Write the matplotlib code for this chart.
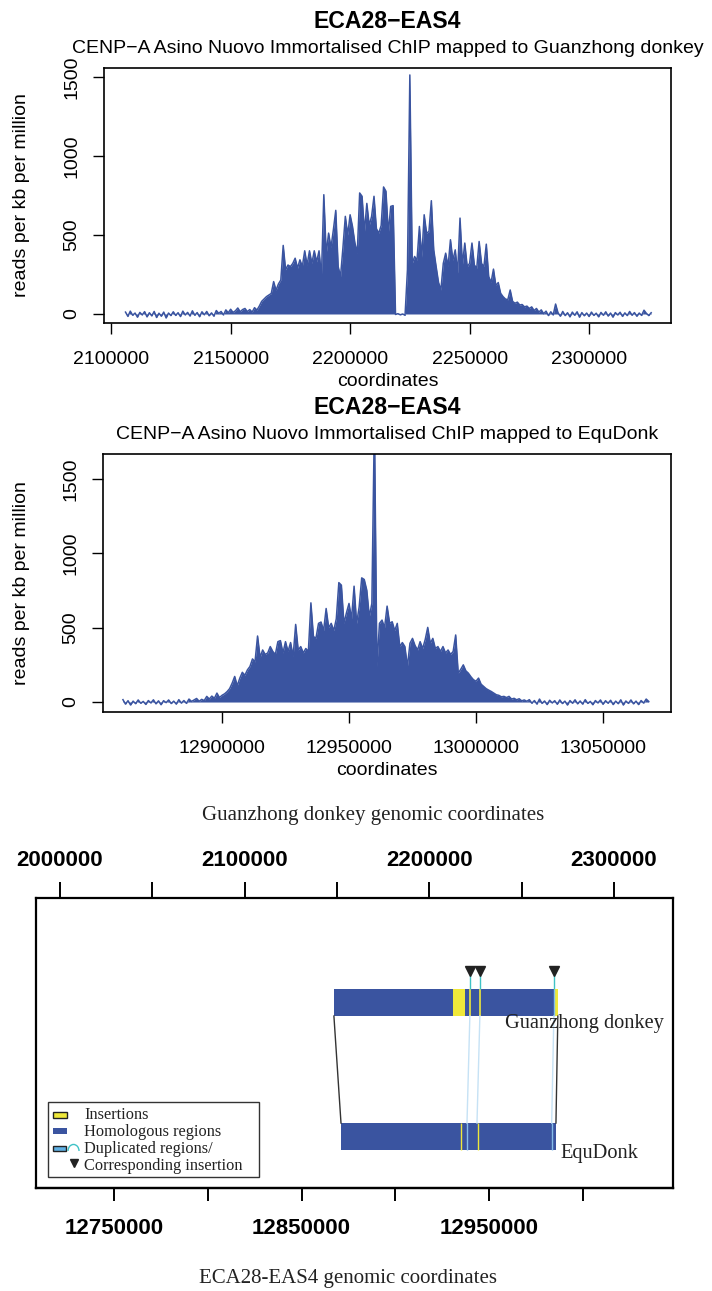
import numpy as np
import matplotlib
matplotlib.use('Agg')
import matplotlib.pyplot as plt
from matplotlib.patches import Rectangle, Arc

plt.rcParams['font.family'] = ['Liberation Sans', 'DejaVu Sans']

W, H = 712, 1291
BLUE = '#3a54a0'
YELLOW = '#efe83a'
CYAN = '#3fc2c6'
PALE = '#c6e2f5'
DUP = '#86bde9'
SERIF = ['Liberation Serif', 'DejaVu Serif']

# CENP-A ChIP signal (reads per kb per million), 1 kb bins
guanzhong_start = 2106000
guanzhong_rpkm = [
    12, -15, 18, -8, 6, -20, 10, -6, 15, -18,
    8, -12, 16, -22, 5, -14, 12, -25, 6, -10,
    14, -9, 8, -16, 18, -6, 10, -13, 20, -8,
    9, -17, 14, -5, 16, -11, 7, -14, 22, 4,
    16, -6, 26, 8, 30, 10, 20, 38, 14, 28,
    35, 15, 28, 12, 40, 25, 50, 80, 95, 110,
    120, 130, 205, 150, 190, 215, 434, 280, 310, 300,
    320, 353, 290, 343, 300, 400, 310, 400, 320, 400,
    330, 400, 237, 755, 380, 512, 420, 533, 656, 300,
    237, 420, 618, 500, 628, 554, 450, 385, 766, 745,
    520, 700, 560, 618, 745, 540, 512, 560, 804, 777,
    512, 681, 686, -3, 2, -5, 0, -8, 280, 1513,
    320, 364, 340, 554, 360, 628, 512, 522, 717, 406,
    300, 200, 152, 320, 385, 300, 470, 340, 406, 260,
    607, 310, 449, 300, 320, 449, 310, 290, 459, 320,
    300, 442, 237, 200, 284, 180, 199, 131, 110, 95,
    90, 152, 80, 68, 75, 57, 60, 45, 50, 35,
    45, 22, 35, 12, 26, 2, 18, -10, 14, -6,
    63, 8, -14, 16, -10, 8, -18, 12, -8, 14,
    -20, 9, -11, 6, -16, 12, -9, 5, -18, 10,
    -8, 14, -13, 6, -20, 9, -6, 11, -15, 7,
    -10, 16, -8, 9, -14, 6, -9, 24, 4, -10,
    8,
]
equdonk_start = 12861000
equdonk_rpkm = [
    16, -14, 9, -20, 6, -11, 14, -8, 4, -16,
    10, -6, 15, -12, 8, -18, 9, -4, 14, -10,
    6, -14, 16, -7, 10, -9, 20, 4, 14, 24,
    5, 18, 10, 38, 20, 40, 25, 60, 30, 45,
    55, 70, 90, 127, 172, 110, 160, 200, 180, 216,
    239, 290, 270, 444, 300, 350, 320, 330, 373, 340,
    320, 406, 413, 330, 406, 340, 400, 306, 522, 350,
    373, 330, 360, 340, 667, 440, 430, 529, 538, 480,
    629, 500, 529, 480, 560, 803, 786, 529, 600, 663,
    560, 779, 529, 640, 835, 824, 752, 574, 663, 1900,
    239, 529, 551, 500, 645, 529, 540, 480, 529, 373,
    400, 373, 239, 395, 428, 380, 350, 406, 360, 420,
    502, 395, 428, 360, 373, 340, 373, 330, 350, 320,
    340, 451, 194, 220, 250, 210, 194, 170, 150, 140,
    161, 120, 105, 90, 80, 71, 60, 49, 45, 35,
    38, 30, 38, 20, 25, 15, 22, 8, 14, 5,
    16, -8, 10, -14, 20, -9, 7, -17, 12, -6,
    9, -15, 14, -10, 6, -20, 10, -8, 15, -12,
    7, -14, 16, -9, 4, -18, 10, -6, 14, -15,
    9, -8, 12, -17, 6, -11, 15, -20, 7, -9,
    14, -12, 6, -17, 10, -7, 20, 4,
]
rpkm_ticks = [0, 500, 1000, 1500]
guanzhong_xticks = [2100000, 2150000, 2200000, 2250000, 2300000]
equdonk_xticks = [12900000, 12950000, 13000000, 13050000]

# synteny of the centromeric region
gz_span = [2148350, 2269630]
gz_insertions = [(2212780, 6500), (2267800, 1830)]
gz_thin_insertions = [2221980, 2227400]
gz_duplicated = [2267460]
gz_marks = [2221980, 2227400, 2267460]
ed_span = [12871000, 12985600]
ed_thin_insertions = [12934970, 12944030]
ed_duplicated = [12938170, 12983320]
ed_mark_targets = [12938170, 12943500, 12983320]
top_ticks = [2000000, 2050000, 2100000, 2150000, 2200000, 2250000, 2300000]
top_labels = ['2000000', '', '2100000', '', '2200000', '', '2300000']
bottom_ticks = [12750000, 12800000, 12850000, 12900000, 12950000, 13000000]
bottom_labels = ['12750000', '', '12850000', '', '12950000', '']

fig = plt.figure(figsize=(W / 100, H / 100), dpi=100)


def fig_xy(x, y):
    return x / W, 1 - y / H


def add_axes_px(left, top, right, bottom):
    return fig.add_axes([left / W, 1 - bottom / H, (right - left) / W, (bottom - top) / H])


def draw_profile(box, start, values, xlim, ylim, xticks, subtitle):
    left, top, right, bottom = box
    x = start + 1000 * np.arange(len(values))
    y = np.array(values, dtype=float)
    ax = add_axes_px(*box)
    ax.fill_between(x, 0, y, color=BLUE, lw=0)
    ax.plot(x, y, color=BLUE, lw=1.1)
    ax.set_xlim(xlim)
    ax.set_ylim(ylim)
    ax.set_xticks(xticks, [str(t) for t in xticks])
    ax.set_yticks(rpkm_ticks, [str(t) for t in rpkm_ticks])
    ax.tick_params(direction='out', length=8, width=1, labelsize=14, pad=12)
    ax.tick_params(axis='y', labelrotation=90, pad=9)
    plt.setp(ax.get_yticklabels(), va='center')
    for s in ax.spines.values():
        s.set_linewidth(1.2)
    cx = (left + right) / 2
    fig.text(*fig_xy(cx, top - 40), 'ECA28\u2212EAS4', ha='center', va='baseline',
             fontsize=16.6, fontweight='bold')
    fig.text(*fig_xy(cx, top - 15), subtitle, ha='center', va='baseline', fontsize=14)
    fig.text(*fig_xy(22, (top + bottom) / 2), 'reads per kb per million', rotation=90,
             ha='center', va='center', fontsize=14)
    fig.text(*fig_xy(cx, bottom + 63), 'coordinates', ha='center', va='baseline', fontsize=14)
    return ax


draw_profile((104, 68, 671, 323), guanzhong_start, guanzhong_rpkm,
             (2097000, 2334300), (-57, 1557), guanzhong_xticks,
             'CENP\u2212A Asino Nuovo Immortalised ChIP mapped to Guanzhong donkey')
draw_profile((103, 454, 671, 712), equdonk_start, equdonk_rpkm,
             (12853150, 13076770), (-67, 1668), equdonk_xticks,
             'CENP\u2212A Asino Nuovo Immortalised ChIP mapped to EquDonk')

# synteny panel: drawn in Guanzhong coordinates, EquDonk mapped linearly
G_LO, G_HI = 1987000, 2332000
E_LO, E_HI = 12708400, 13048000


def e2g(e):
    return G_LO + (np.asarray(e, dtype=float) - E_LO) * (G_HI - G_LO) / (E_HI - E_LO)


def g2e(g):
    return E_LO + (np.asarray(g, dtype=float) - G_LO) * (E_HI - E_LO) / (G_HI - G_LO)


ax3 = add_axes_px(36, 898, 673, 1188)
ax3.set_xlim(G_LO, G_HI)
ax3.set_ylim(0, 1)
ax3.set_yticks([])
ax3.xaxis.tick_top()
ax3.set_xticks(top_ticks, top_labels)
ax3.tick_params(axis='x', top=True, bottom=False, labeltop=True, labelbottom=False,
                direction='out', length=11.5, width=1.4, labelsize=16, pad=8)
plt.setp(ax3.get_xticklabels(), fontweight='bold')
for s in ax3.spines.values():
    s.set_linewidth(1.6)

sec = ax3.secondary_xaxis('bottom', functions=(g2e, e2g))
sec.set_xticks(bottom_ticks, bottom_labels)
sec.tick_params(direction='out', length=9.5, width=1.4, labelsize=16, pad=12)
plt.setp(sec.get_xticklabels(), fontweight='bold')
sec.spines['bottom'].set_linewidth(1.6)

top_y, bot_y, bar_h = 0.593, 0.131, 0.093

# Guanzhong donkey track
ax3.broken_barh([(gz_span[0], gz_span[1] - gz_span[0])], (top_y, bar_h), facecolors=BLUE)
ax3.broken_barh(gz_insertions, (top_y, bar_h), facecolors=YELLOW)
ax3.vlines(gz_thin_insertions, top_y, top_y + bar_h, color=YELLOW, lw=1.2)
ax3.vlines(gz_duplicated, top_y, top_y + bar_h, color=DUP, lw=1)
ax3.vlines(gz_marks, top_y + bar_h, 0.734, color=CYAN, lw=1)
ax3.plot(gz_marks, np.full(len(gz_marks), 0.749), 'v', color='#222222', ms=7)

# EquDonk track
ed_lo, ed_hi = e2g(ed_span[0]), e2g(ed_span[1])
ax3.broken_barh([(ed_lo, ed_hi - ed_lo)], (bot_y, bar_h), facecolors=BLUE)
ax3.vlines(e2g(ed_thin_insertions), bot_y, bot_y + bar_h, color=YELLOW, lw=1)
ax3.vlines(e2g(ed_duplicated), bot_y, bot_y + bar_h, color=DUP, lw=1)

# links between the two assemblies
for g, e in zip(gz_marks, ed_mark_targets):
    ax3.plot([g, e2g(e)], [top_y, bot_y + bar_h], color=PALE, lw=1)
ax3.plot([gz_span[0], ed_lo], [top_y, bot_y + bar_h], color='#333333', lw=1)
ax3.plot([gz_span[1], ed_hi], [top_y, bot_y + bar_h], color='#333333', lw=1)

ax3.text(0.736, 0.552, 'Guanzhong donkey', transform=ax3.transAxes, family=SERIF,
         fontsize=14.7, ha='left', va='baseline', color='#222222')
ax3.text(0.8226, 0.103, 'EquDonk', transform=ax3.transAxes, family=SERIF,
         fontsize=14.7, ha='left', va='baseline', color='#222222')

# legend
t = ax3.transAxes
ax3.add_patch(Rectangle((0.0188, 0.0379), 0.3313, 0.2587, transform=t, fill=False,
                        ec='#333333', lw=1))
ax3.add_patch(Rectangle((0.0272, 0.2414), 0.021, 0.0207, transform=t, fc=YELLOW,
                        ec='#222222', lw=1))
ax3.add_patch(Rectangle((0.0272, 0.1862), 0.021, 0.0207, transform=t, fc=BLUE, ec='none'))
ax3.add_patch(Rectangle((0.0262, 0.1276), 0.021, 0.0172, transform=t, fc='#5fb0e4',
                        ec='#222222', lw=1))
ax3.add_patch(Arc((0.0589, 0.1276), 0.0173, 0.045, theta1=0, theta2=180, transform=t,
                  color=CYAN, lw=1))
ax3.plot([0.0589], [0.0862], 'v', color='#222222', ms=6, transform=t)
legend_texts = ['Insertions', 'Homologous regions', 'Duplicated regions/',
                'Corresponding insertion']
for label, yb in zip(legend_texts, [0.2379, 0.1793, 0.1207, 0.0621]):
    ax3.text(0.0754, yb, label, transform=t, family=SERIF, fontsize=11.8,
             ha='left', va='baseline', color='#222222')

fig.text(*fig_xy(373, 820), 'Guanzhong donkey genomic coordinates', family=SERIF,
         fontsize=15, ha='center', va='baseline', color='#222222')
fig.text(*fig_xy(348, 1283), 'ECA28-EAS4 genomic coordinates', family=SERIF,
         fontsize=15, ha='center', va='baseline', color='#222222')

fig.savefig('out.png', dpi=100)
